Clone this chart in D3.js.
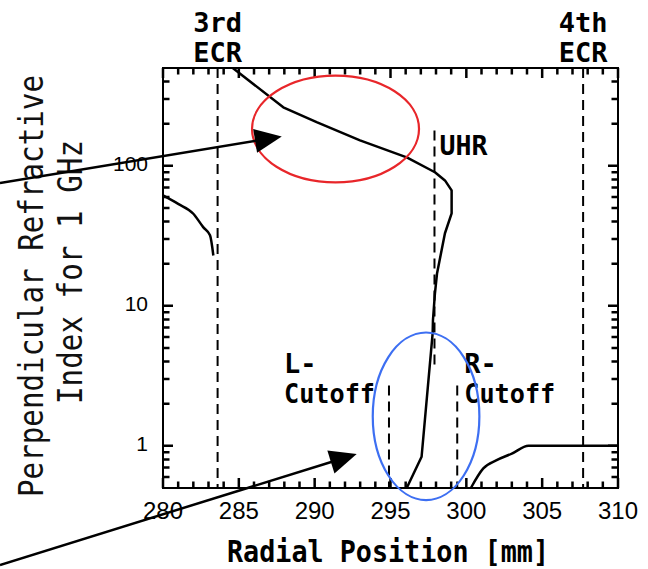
<!DOCTYPE html>
<html>
<head>
<meta charset="utf-8">
<script src="https://cdn.jsdelivr.net/npm/d3@7/dist/d3.min.js"></script>
<style>
  html, body { margin: 0; padding: 0; background: #fff; }
  svg { display: block; }
</style>
</head>
<body>
<svg id="chart" width="648" height="569"></svg>
<script>
// Perpendicular refractive index profile vs. radial position (1 GHz)

// Branch below the 3rd ECR layer
const lowX = [280.0, 281.0, 282.0, 282.65, 283.10, 283.32];
const lowN = [61.5, 53.5, 45.5, 36.5, 31.9, 22.9];

// Main branch through the upper hybrid resonance
const mainX = [284.6, 287.93, 290.13, 292.99, 296.07, 297.93, 298.59, 299.03, 299.03, 298.59, 298.07, 297.93, 297.80, 297.78, 297.05, 296.07];
const mainN = [500, 262, 205, 152, 115, 90, 78.7, 66.8, 45.8, 33.0, 17.1, 12.3, 7.9, 6.38, 0.836, 0.5];

// Branch beyond the R-cutoff
const highX = [300.3, 301.12, 302.0, 303.0, 304.1, 310.0];
const highN = [0.5, 0.69, 0.79, 0.88, 1.0, 1.0];

// Characteristic layers (dashed verticals)
const layerNames = ["3rd ECR", "4th ECR", "UHR", "L-Cutoff", "R-Cutoff"];
const layerPos = [283.6, 307.7, 297.9, 294.9, 299.4];
const layerTop = [500, 500, 179, 2.7, 2.7];
const layerBottom = [0.5, 0.5, 3.77, 0.5, 0.5];

// Axis ticks
const xTicks = [280, 285, 290, 295, 300, 305, 310];
const xMinor = d3.range(281, 310, 1).filter(v => v % 5 !== 0);
const yTicks = [1, 10, 100];
const yMinor = [0.6, 0.7, 0.8, 0.9, 2, 3, 4, 5, 6, 7, 8, 9, 20, 30, 40, 50, 60, 70, 80, 90, 200, 300, 400];

// Highlight ellipses (data-space bounding boxes) and pointer arrows
const ringX0 = [285.87, 293.83];
const ringX1 = [296.88, 300.86];
const ringHi = [441, 6.45];
const ringLo = [76.2, 0.41];
const ringColor = ["#e8262a", "#3d6ff2"];

const arrowFromX = [269.25, 269.25];
const arrowFromN = [75.3, 0.141];
const arrowToX = [287.83, 292.77];
const arrowToN = [162, 0.874];

const svg = d3.select("#chart");
const plotL = 163, plotR = 618, plotT = 68, plotB = 488;

const x = d3.scaleLinear().domain([280, 310]).range([plotL, plotR]);
const y = d3.scaleLog().domain([0.5, 500]).range([plotB, plotT]);

const mono = "'DejaVu Sans Mono', 'Liberation Mono', monospace";
const sans = "'Liberation Sans', Arial, sans-serif";

svg.append("rect").attr("width", 648).attr("height", 569).attr("fill", "#fff");

// Plot frame
svg.append("rect")
  .attr("x", plotL).attr("y", plotT)
  .attr("width", plotR - plotL).attr("height", plotB - plotT)
  .attr("fill", "none").attr("stroke", "#000").attr("stroke-width", 2);

// Inward tick marks on all four sides of the frame
let tickPath = "";
xMinor.forEach(d => { tickPath += `M${x(d)},${plotB}V${plotB - 6.5}M${x(d)},${plotT}V${plotT + 6.5}`; });
xTicks.forEach(d => { tickPath += `M${x(d)},${plotB}V${plotB - 10}M${x(d)},${plotT}V${plotT + 10}`; });
yMinor.forEach(d => { tickPath += `M${plotL},${y(d)}H${plotL + 6.5}M${plotR},${y(d)}H${plotR - 6.5}`; });
yTicks.forEach(d => { tickPath += `M${plotL},${y(d)}H${plotL + 10}M${plotR},${y(d)}H${plotR - 10}`; });
svg.append("path")
  .attr("d", tickPath)
  .attr("fill", "none")
  .attr("stroke", "#000")
  .attr("stroke-width", 2.5);

// Tick labels
svg.append("g").selectAll("text").data(xTicks).join("text")
  .attr("x", d => x(d)).attr("y", 518.5)
  .attr("text-anchor", "middle")
  .attr("font-family", sans).attr("font-size", 24).attr("fill", "#000")
  .text(d3.format("d"));
svg.append("g").selectAll("text").data(yTicks).join("text")
  .attr("x", plotL - 15).attr("y", d => y(d) + 5.5)
  .attr("text-anchor", "end")
  .attr("font-family", sans).attr("font-size", 21).attr("fill", "#000")
  .text(d3.format("d"));

// Dashed layer markers
layerPos.forEach((p, i) => {
  svg.append("line")
    .attr("x1", x(p)).attr("x2", x(p))
    .attr("y1", y(layerTop[i])).attr("y2", y(layerBottom[i]))
    .attr("stroke", "#000").attr("stroke-width", 2)
    .attr("stroke-dasharray", "10,6");
});

// Layer labels
function label(lines, xp, yp, anchor, lengths) {
  lines.forEach((t, k) => {
    const txt = svg.append("text")
      .attr("x", xp).attr("y", yp[k])
      .attr("text-anchor", anchor)
      .attr("font-family", mono).attr("font-weight", "bold")
      .attr("font-size", 27).attr("fill", "#000")
      .text(t);
    if (lengths && lengths[k]) txt.attr("textLength", lengths[k]).attr("lengthAdjust", "spacingAndGlyphs");
  });
}
label(["3rd", "ECR"], x(layerPos[0]), [31.5, 61.5], "middle");
label(["4th", "ECR"], x(layerPos[1]), [31.5, 61.5], "middle");
label(["UHR"], x(layerPos[2]) + 5, [y(layerTop[2]) + 25], "start", [48]);
label(["L-", "Cutoff"], x(layerPos[3]) - 105, [373, 403], "start", [null, 91]);
label(["R-", "Cutoff"], x(layerPos[4]) + 7, [373, 403], "start", [null, 91]);

// Refractive index curves
const lineLinear = d3.line().x(d => x(d[0])).y(d => y(d[1]));
const lineSmooth = d3.line().x(d => x(d[0])).y(d => y(d[1])).curve(d3.curveMonotoneX);
[[lowX, lowN, lineSmooth], [mainX, mainN, lineLinear], [highX, highN, lineSmooth]].forEach(([xs, ns, gen]) => {
  svg.append("path")
    .attr("d", gen(xs.map((v, i) => [v, ns[i]])))
    .attr("fill", "none").attr("stroke", "#000")
    .attr("stroke-width", 2.5).attr("stroke-linejoin", "round");
});

// Axis titles
svg.append("text")
  .attr("x", 388).attr("y", 562)
  .attr("text-anchor", "middle")
  .attr("font-family", mono).attr("font-weight", "bold")
  .attr("font-size", 30).attr("fill", "#000")
  .attr("textLength", 322).attr("lengthAdjust", "spacingAndGlyphs")
  .text("Radial Position [mm]");

const yTitle = [["Perpendicular Refractive", 43, 286, 422], ["Index for 1 GHz", 82, 272, 264]];
yTitle.forEach(([t, bx, cy, len]) => {
  svg.append("text")
    .attr("transform", `translate(${bx},${cy}) rotate(-90)`)
    .attr("text-anchor", "middle")
    .attr("font-family", mono)
    .attr("font-size", 34).attr("fill", "#111")
    .attr("textLength", len).attr("lengthAdjust", "spacingAndGlyphs")
    .text(t);
});

// Highlight ellipses
ringX0.forEach((x0, i) => {
  const cx = (x(x0) + x(ringX1[i])) / 2, cy = (y(ringHi[i]) + y(ringLo[i])) / 2;
  svg.append("ellipse")
    .attr("cx", cx).attr("cy", cy)
    .attr("rx", (x(ringX1[i]) - x(x0)) / 2)
    .attr("ry", (y(ringLo[i]) - y(ringHi[i])) / 2)
    .attr("fill", "none").attr("stroke", ringColor[i]).attr("stroke-width", 2.2);
});

// Pointer arrows
arrowFromX.forEach((fx, i) => {
  const x1 = x(fx), y1 = y(arrowFromN[i]);
  const x2 = x(arrowToX[i]), y2 = y(arrowToN[i]);
  const dx = x2 - x1, dy = y2 - y1, L = Math.hypot(dx, dy);
  const ux = dx / L, uy = dy / L, headLen = 27, headHalf = 12;
  const bx = x2 - ux * headLen, by = y2 - uy * headLen;
  svg.append("line")
    .attr("x1", x1).attr("y1", y1)
    .attr("x2", bx + ux * 2).attr("y2", by + uy * 2)
    .attr("stroke", "#000").attr("stroke-width", 2.5);
  svg.append("path")
    .attr("d", `M${x2},${y2}L${bx - uy * headHalf},${by + ux * headHalf}L${bx + uy * headHalf},${by - ux * headHalf}Z`)
    .attr("fill", "#000");
});
</script>
</body>
</html>
